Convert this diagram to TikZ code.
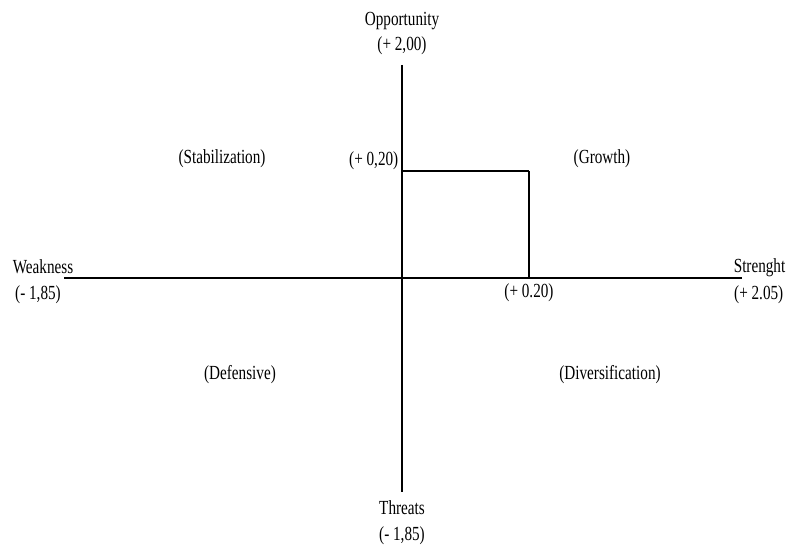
\documentclass[tikz,border=0pt]{standalone}
\usepackage{fontspec}
\setmainfont[FakeStretch=0.76]{Liberation Serif}
\begin{document}
\begin{tikzpicture}[x=1pt, y=-1pt, every path/.style={line width=1.4pt},
    lbl/.style={font=\fontsize{20}{22}\selectfont, inner sep=0pt}]

    \useasboundingbox (0,0) rectangle (787,545);

    \coordinate (top) at (402,65);
    \coordinate (bottom) at (402,492);
    \coordinate (left) at (64,278);
    \coordinate (right) at (742,278);

    \coordinate (c1) at (402,171);
    \coordinate (c2) at (529,171);
    \coordinate (c3) at (529,278);

    \draw[] (top) to (bottom);

    \draw[] (left) to (right);

    \draw[] (c1) to (c2);

    \draw[] (c2) to (c3);

    \node[lbl] (opp) at (402,21) {Opportunity};
    \node[lbl] (oppv) at (402,46) {(+ 2,00)};

    \node[lbl] (thr) at (402,508) {Threats};
    \node[lbl] (thrv) at (402,536) {(- 1,85)};

    \node[lbl] (weak) at (43,267) {Weakness};
    \node[lbl] (weakv) at (38,295) {(- 1,85)};

    \node[lbl, anchor=east] (str) at (786,268) {Strenght};
    \node[lbl, anchor=east] (strv) at (784,295) {(+ 2.05)};

    \node[lbl, anchor=east] (yv) at (399,161) {(+ 0,20)};
    \node[lbl] (xv) at (529,293) {(+ 0.20)};

    \node[lbl] (stab) at (222,159) {(Stabilization)};
    \node[lbl] (grow) at (602,159) {(Growth)};
    \node[lbl] (def) at (240,375) {(Defensive)};
    \node[lbl] (div) at (610,375) {(Diversification)};

\end{tikzpicture}
\end{document}
